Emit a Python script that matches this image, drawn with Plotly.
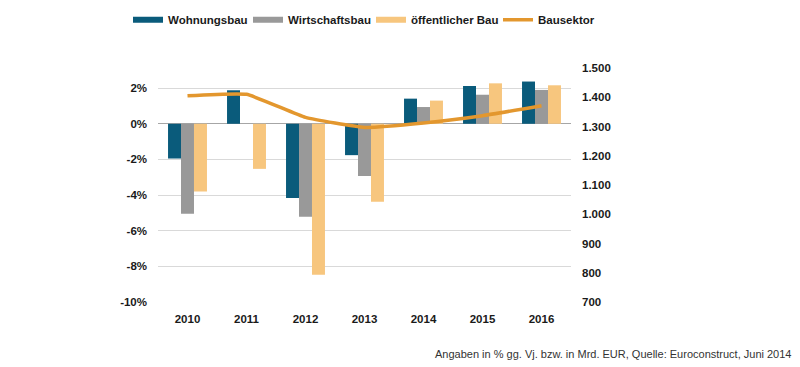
import plotly.graph_objects as go

years = ["2010", "2011", "2012", "2013", "2014", "2015", "2016"]
wohnungsbau = [-1.95, 1.88, -4.17, -1.76, 1.41, 2.12, 2.37]
wirtschaftsbau = [-5.05, 0.0, -5.22, -2.93, 0.94, 1.63, 1.90]
oeffentlicher_bau = [-3.80, -2.53, -8.47, -4.37, 1.30, 2.27, 2.16]
bausektor = [1405, 1410, 1331, 1297, 1312, 1337, 1371]

left_tickvals = [-10, -8, -6, -4, -2, 0, 2]
left_ticktext = ["-10%", "-8%", "-6%", "-4%", "-2%", "0%", "2%"]
right_tickvals = [700, 800, 900, 1000, 1100, 1200, 1300, 1400, 1500]
right_ticktext = ["700", "800", "900", "1.000", "1.100", "1.200", "1.300", "1.400", "1.500"]

C_WOHN = "#0A5B7B"
C_WIRT = "#999999"
C_OEFF = "#F7C67E"
C_BAU = "#E3972E"
FONT = "Liberation Sans, Arial, sans-serif"

fig = go.Figure()
legend_ids = ["legend", "legend2", "legend3", "legend4"]
bar_series = [("Wohnungsbau", wohnungsbau, C_WOHN),
              ("Wirtschaftsbau", wirtschaftsbau, C_WIRT),
              ("öffentlicher Bau", oeffentlicher_bau, C_OEFF)]
for i, (name, vals, col) in enumerate(bar_series):
    fig.add_trace(go.Bar(x=years, y=vals, name=name, marker=dict(color=col, line=dict(width=0)),
                         showlegend=False, legendgroup=name))
    fig.add_trace(go.Scatter(x=[None], y=[None], mode="lines", name=name, legendgroup=name,
                             legend=legend_ids[i], line=dict(color=col, width=6)))

fig.add_trace(go.Scatter(x=years, y=bausektor, name="Bausektor", mode="lines", yaxis="y2",
                         legend="legend4",
                         line=dict(color=C_BAU, width=3.5, shape="spline", smoothing=0.4)))

# page body has an 8px margin, so the figure is 8px smaller than the window
plot_left, plot_w = 150, 413
legend_starts = [120, 240, 363, 490]
legend_style = dict(font=dict(family=FONT, size=11.5, weight="bold", color="#1a1a1a"),
                    bgcolor="rgba(0,0,0,0)", itemwidth=30, orientation="h",
                    y=1.206, yanchor="middle", xanchor="left")
legends = {lid: dict(x=(xs - plot_left) / plot_w, **legend_style)
           for lid, xs in zip(legend_ids, legend_starts)}

fig.update_layout(
    width=792, height=359,
    margin=dict(l=150, r=229, t=60, b=64.5, autoexpand=False),
    paper_bgcolor="white", plot_bgcolor="white",
    barmode="group", bargap=0.34, bargroupgap=0,
    font=dict(family=FONT, size=11.5, color="#1a1a1a"),
    showlegend=True,
    **legends,
    xaxis=dict(showgrid=False, showline=False, ticks="", zeroline=False,
               tickfont=dict(family=FONT, size=11.5, weight="bold"), ticklabelstandoff=8),
    yaxis=dict(range=[-10, 3.13], tickvals=left_tickvals, ticktext=left_ticktext,
               showgrid=True, gridcolor="#d9d9d9", gridwidth=1,
               zeroline=True, zerolinecolor="#a6a6a6", zerolinewidth=1,
               showline=False, ticks="", ticklabelstandoff=10,
               tickfont=dict(family=FONT, size=11.5, weight="bold")),
    yaxis2=dict(range=[700, 1500], tickvals=right_tickvals, ticktext=right_ticktext,
                overlaying="y", side="right", showgrid=False, zeroline=False,
                showline=False, ticks="", ticklabelstandoff=10,
                tickfont=dict(family=FONT, size=11.5, weight="bold")),
    annotations=[dict(text="Angaben in % gg. Vj. bzw. in Mrd. EUR, Quelle: Euroconstruct, Juni 2014",
                      xref="paper", yref="paper", x=1.5375, y=-0.224, xanchor="right", yanchor="middle",
                      showarrow=False, font=dict(family=FONT, size=11, color="#333333"))],
)

fig.write_html("out.html")
